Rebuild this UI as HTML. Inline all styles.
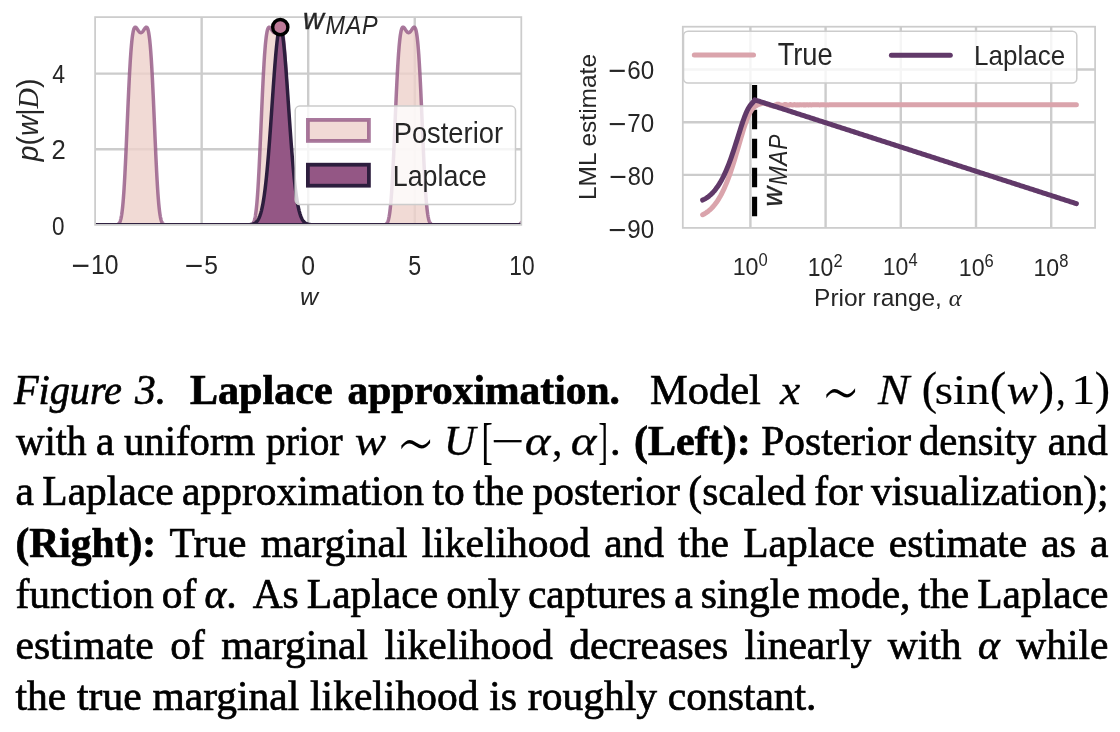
<!DOCTYPE html>
<html><head><meta charset="utf-8"><title>Figure 3. Laplace approximation</title>
<style>
html,body{margin:0;padding:0;background:#fff;}
body{width:1120px;height:732px;overflow:hidden;position:relative;}
svg{position:absolute;left:0;top:0;}
.sans{font-family:"Liberation Sans","DejaVu Sans",sans-serif;fill:#262626;}
.tick{font-size:24.5px;}
.leg{font-size:28.5px;}
#cap{position:absolute;left:0;top:0;width:1120px;height:732px;font-family:"Liberation Serif","DejaVu Serif",serif;font-size:41.5px;line-height:51.2px;color:#000;-webkit-text-stroke:0.7px #000;}
#cap .la{position:absolute;left:0;width:1120px;height:51.2px;white-space:nowrap;}
#cap .p{display:inline-block;white-space:pre;vertical-align:baseline;}
#cap .lj{position:absolute;left:15.5px;width:1093px;white-space:nowrap;text-align:justify;text-align-last:justify;word-spacing:-4px;}
#cap .lj.last{text-align-last:left;word-spacing:0.5px;}
</style></head><body>
<svg width="1120" height="340" viewBox="0 0 1120 340">
<defs><clipPath id="cl"><rect x="95.1" y="17.1" width="426.2" height="207.75"/></clipPath><clipPath id="cr"><rect x="682.8" y="26.7" width="412.3" height="201.2"/></clipPath></defs>
<!-- ===== LEFT PLOT ===== -->
<g fill="none" stroke="#cccccc" stroke-width="2.4">
<path d="M201.65,17.1V224.85M308.2,17.1V224.85M414.75,17.1V224.85M95.1,149.25H521.3M95.1,73.65H521.3"/>
</g>
<g clip-path="url(#cl)"><path d="M95.10,224.85 L95.10,224.85 95.37,224.85 95.63,224.85 95.90,224.85 96.17,224.85 96.43,224.85 96.70,224.85 96.96,224.85 97.23,224.85 97.50,224.85 97.76,224.85 98.03,224.85 98.30,224.85 98.56,224.85 98.83,224.85 99.10,224.85 99.36,224.85 99.63,224.85 99.89,224.85 100.16,224.85 100.43,224.85 100.69,224.85 100.96,224.85 101.23,224.85 101.49,224.85 101.76,224.85 102.03,224.85 102.29,224.85 102.56,224.85 102.82,224.85 103.09,224.85 103.36,224.85 103.62,224.85 103.89,224.85 104.16,224.85 104.42,224.85 104.69,224.85 104.96,224.85 105.22,224.85 105.49,224.85 105.75,224.85 106.02,224.85 106.29,224.85 106.55,224.85 106.82,224.85 107.09,224.85 107.35,224.85 107.62,224.85 107.89,224.85 108.15,224.85 108.42,224.85 108.69,224.85 108.95,224.85 109.22,224.85 109.48,224.85 109.75,224.85 110.02,224.85 110.28,224.85 110.55,224.85 110.82,224.85 111.08,224.85 111.35,224.85 111.62,224.85 111.88,224.85 112.15,224.85 112.41,224.85 112.68,224.85 112.95,224.85 113.21,224.85 113.48,224.85 113.75,224.85 114.01,224.85 114.28,224.84 114.55,224.84 114.81,224.84 115.08,224.83 115.34,224.83 115.61,224.82 115.88,224.80 116.14,224.78 116.41,224.76 116.68,224.73 116.94,224.68 117.21,224.62 117.48,224.55 117.74,224.45 118.01,224.33 118.27,224.17 118.54,223.97 118.81,223.72 119.07,223.42 119.34,223.04 119.61,222.58 119.87,222.03 120.14,221.37 120.41,220.58 120.67,219.65 120.94,218.56 121.20,217.30 121.47,215.84 121.74,214.17 122.00,212.27 122.27,210.13 122.54,207.73 122.80,205.06 123.07,202.11 123.34,198.87 123.60,195.34 123.87,191.51 124.13,187.39 124.40,182.99 124.67,178.31 124.93,173.37 125.20,168.18 125.47,162.77 125.73,157.17 126.00,151.38 126.27,145.46 126.53,139.42 126.80,133.31 127.06,127.15 127.33,120.97 127.60,114.83 127.86,108.73 128.13,102.73 128.40,96.85 128.66,91.12 128.93,85.56 129.20,80.20 129.46,75.07 129.73,70.18 130.00,65.54 130.26,61.17 130.53,57.08 130.79,53.27 131.06,49.75 131.33,46.52 131.59,43.58 131.86,40.91 132.13,38.53 132.39,36.41 132.66,34.54 132.93,32.93 133.19,31.55 133.46,30.38 133.72,29.43 133.99,28.66 134.26,28.07 134.52,27.64 134.79,27.35 135.06,27.20 135.32,27.16 135.59,27.22 135.86,27.36 136.12,27.58 136.39,27.86 136.65,28.19 136.92,28.55 137.19,28.94 137.45,29.34 137.72,29.75 137.99,30.15 138.25,30.54 138.52,30.92 138.79,31.27 139.05,31.59 139.32,31.88 139.58,32.12 139.85,32.32 140.12,32.48 140.38,32.59 140.65,32.65 140.92,32.66 141.18,32.62 141.45,32.53 141.72,32.39 141.98,32.20 142.25,31.97 142.51,31.70 142.78,31.39 143.05,31.05 143.31,30.68 143.58,30.29 143.85,29.89 144.11,29.49 144.38,29.08 144.65,28.69 144.91,28.31 145.18,27.97 145.44,27.68 145.71,27.43 145.98,27.26 146.24,27.17 146.51,27.17 146.78,27.28 147.04,27.52 147.31,27.89 147.58,28.42 147.84,29.13 148.11,30.01 148.38,31.10 148.64,32.40 148.91,33.93 149.17,35.70 149.44,37.73 149.71,40.02 149.97,42.58 150.24,45.42 150.51,48.55 150.77,51.96 151.04,55.66 151.31,59.65 151.57,63.92 151.84,68.46 152.10,73.27 152.37,78.31 152.64,83.59 152.90,89.08 153.17,94.75 153.44,100.58 153.70,106.54 153.97,112.61 154.24,118.74 154.50,124.91 154.77,131.07 155.03,137.21 155.30,143.28 155.57,149.25 155.83,155.09 156.10,160.76 156.37,166.25 156.63,171.51 156.90,176.55 157.17,181.32 157.43,185.83 157.70,190.05 157.96,193.98 158.23,197.62 158.50,200.97 158.76,204.02 159.03,206.79 159.30,209.29 159.56,211.52 159.83,213.51 160.10,215.26 160.36,216.79 160.63,218.12 160.89,219.27 161.16,220.26 161.43,221.10 161.69,221.80 161.96,222.39 162.23,222.88 162.49,223.29 162.76,223.62 163.03,223.89 163.29,224.10 163.56,224.27 163.82,224.41 164.09,224.52 164.36,224.60 164.62,224.66 164.89,224.71 165.16,224.75 165.42,224.78 165.69,224.80 165.96,224.81 166.22,224.82 166.49,224.83 166.75,224.84 167.02,224.84 167.29,224.84 167.55,224.85 167.82,224.85 168.09,224.85 168.35,224.85 168.62,224.85 168.89,224.85 169.15,224.85 169.42,224.85 169.69,224.85 169.95,224.85 170.22,224.85 170.48,224.85 170.75,224.85 171.02,224.85 171.28,224.85 171.55,224.85 171.82,224.85 172.08,224.85 172.35,224.85 172.62,224.85 172.88,224.85 173.15,224.85 173.41,224.85 173.68,224.85 173.95,224.85 174.21,224.85 174.48,224.85 174.75,224.85 175.01,224.85 175.28,224.85 175.55,224.85 175.81,224.85 176.08,224.85 176.34,224.85 176.61,224.85 176.88,224.85 177.14,224.85 177.41,224.85 177.68,224.85 177.94,224.85 178.21,224.85 178.48,224.85 178.74,224.85 179.01,224.85 179.27,224.85 179.54,224.85 179.81,224.85 180.07,224.85 180.34,224.85 180.61,224.85 180.87,224.85 181.14,224.85 181.41,224.85 181.67,224.85 181.94,224.85 182.20,224.85 182.47,224.85 182.74,224.85 183.00,224.85 183.27,224.85 183.54,224.85 183.80,224.85 184.07,224.85 184.34,224.85 184.60,224.85 184.87,224.85 185.13,224.85 185.40,224.85 185.67,224.85 185.93,224.85 186.20,224.85 186.47,224.85 186.73,224.85 187.00,224.85 187.27,224.85 187.53,224.85 187.80,224.85 188.06,224.85 188.33,224.85 188.60,224.85 188.86,224.85 189.13,224.85 189.40,224.85 189.66,224.85 189.93,224.85 190.20,224.85 190.46,224.85 190.73,224.85 191.00,224.85 191.26,224.85 191.53,224.85 191.79,224.85 192.06,224.85 192.33,224.85 192.59,224.85 192.86,224.85 193.13,224.85 193.39,224.85 193.66,224.85 193.93,224.85 194.19,224.85 194.46,224.85 194.72,224.85 194.99,224.85 195.26,224.85 195.52,224.85 195.79,224.85 196.06,224.85 196.32,224.85 196.59,224.85 196.86,224.85 197.12,224.85 197.39,224.85 197.65,224.85 197.92,224.85 198.19,224.85 198.45,224.85 198.72,224.85 198.99,224.85 199.25,224.85 199.52,224.85 199.79,224.85 200.05,224.85 200.32,224.85 200.58,224.85 200.85,224.85 201.12,224.85 201.38,224.85 201.65,224.85 201.92,224.85 202.18,224.85 202.45,224.85 202.72,224.85 202.98,224.85 203.25,224.85 203.51,224.85 203.78,224.85 204.05,224.85 204.31,224.85 204.58,224.85 204.85,224.85 205.11,224.85 205.38,224.85 205.65,224.85 205.91,224.85 206.18,224.85 206.44,224.85 206.71,224.85 206.98,224.85 207.24,224.85 207.51,224.85 207.78,224.85 208.04,224.85 208.31,224.85 208.58,224.85 208.84,224.85 209.11,224.85 209.37,224.85 209.64,224.85 209.91,224.85 210.17,224.85 210.44,224.85 210.71,224.85 210.97,224.85 211.24,224.85 211.51,224.85 211.77,224.85 212.04,224.85 212.31,224.85 212.57,224.85 212.84,224.85 213.10,224.85 213.37,224.85 213.64,224.85 213.90,224.85 214.17,224.85 214.44,224.85 214.70,224.85 214.97,224.85 215.24,224.85 215.50,224.85 215.77,224.85 216.03,224.85 216.30,224.85 216.57,224.85 216.83,224.85 217.10,224.85 217.37,224.85 217.63,224.85 217.90,224.85 218.17,224.85 218.43,224.85 218.70,224.85 218.96,224.85 219.23,224.85 219.50,224.85 219.76,224.85 220.03,224.85 220.30,224.85 220.56,224.85 220.83,224.85 221.10,224.85 221.36,224.85 221.63,224.85 221.89,224.85 222.16,224.85 222.43,224.85 222.69,224.85 222.96,224.85 223.23,224.85 223.49,224.85 223.76,224.85 224.03,224.85 224.29,224.85 224.56,224.85 224.82,224.85 225.09,224.85 225.36,224.85 225.62,224.85 225.89,224.85 226.16,224.85 226.42,224.85 226.69,224.85 226.96,224.85 227.22,224.85 227.49,224.85 227.75,224.85 228.02,224.85 228.29,224.85 228.55,224.85 228.82,224.85 229.09,224.85 229.35,224.85 229.62,224.85 229.89,224.85 230.15,224.85 230.42,224.85 230.68,224.85 230.95,224.85 231.22,224.85 231.48,224.85 231.75,224.85 232.02,224.85 232.28,224.85 232.55,224.85 232.82,224.85 233.08,224.85 233.35,224.85 233.62,224.85 233.88,224.85 234.15,224.85 234.41,224.85 234.68,224.85 234.95,224.85 235.21,224.85 235.48,224.85 235.75,224.85 236.01,224.85 236.28,224.85 236.55,224.85 236.81,224.85 237.08,224.85 237.34,224.85 237.61,224.85 237.88,224.85 238.14,224.85 238.41,224.85 238.68,224.85 238.94,224.85 239.21,224.85 239.48,224.85 239.74,224.85 240.01,224.85 240.27,224.85 240.54,224.85 240.81,224.85 241.07,224.85 241.34,224.85 241.61,224.85 241.87,224.85 242.14,224.85 242.41,224.85 242.67,224.85 242.94,224.85 243.20,224.85 243.47,224.85 243.74,224.85 244.00,224.85 244.27,224.85 244.54,224.85 244.80,224.85 245.07,224.85 245.34,224.85 245.60,224.85 245.87,224.85 246.13,224.85 246.40,224.85 246.67,224.85 246.93,224.85 247.20,224.85 247.47,224.85 247.73,224.85 248.00,224.85 248.27,224.84 248.53,224.84 248.80,224.84 249.06,224.83 249.33,224.82 249.60,224.81 249.86,224.80 250.13,224.78 250.40,224.75 250.66,224.71 250.93,224.66 251.20,224.60 251.46,224.52 251.73,224.41 251.99,224.28 252.26,224.10 252.53,223.89 252.79,223.62 253.06,223.29 253.33,222.89 253.59,222.40 253.86,221.81 254.13,221.11 254.39,220.28 254.66,219.29 254.92,218.15 255.19,216.82 255.46,215.29 255.72,213.54 255.99,211.56 256.26,209.33 256.52,206.84 256.79,204.07 257.06,201.02 257.32,197.68 257.59,194.05 257.86,190.12 258.12,185.90 258.39,181.40 258.65,176.63 258.92,171.61 259.19,166.34 259.45,160.86 259.72,155.19 259.99,149.35 260.25,143.39 260.52,137.32 260.79,131.18 261.05,125.02 261.32,118.85 261.58,112.71 261.85,106.65 262.12,100.69 262.38,94.85 262.65,89.18 262.92,83.69 263.18,78.41 263.45,73.35 263.72,68.55 263.98,64.00 264.25,59.73 264.51,55.73 264.78,52.03 265.05,48.61 265.31,45.47 265.58,42.63 265.85,40.06 266.11,37.77 266.38,35.74 266.65,33.96 266.91,32.43 267.18,31.12 267.44,30.03 267.71,29.14 267.98,28.44 268.24,27.90 268.51,27.52 268.78,27.28 269.04,27.17 269.31,27.17 269.58,27.26 269.84,27.43 270.11,27.67 270.37,27.97 270.64,28.31 270.91,28.68 271.17,29.07 271.44,29.48 271.71,29.89 271.97,30.29 272.24,30.68 272.51,31.04 272.77,31.38 273.04,31.69 273.30,31.96 273.57,32.20 273.84,32.38 274.10,32.52 274.37,32.62 274.64,32.66 274.90,32.65 275.17,32.59 275.44,32.48 275.70,32.33 275.97,32.12 276.24,31.88 276.50,31.60 276.77,31.28 277.03,30.93 277.30,30.55 277.57,30.16 277.83,29.75 278.10,29.34 278.37,28.94 278.63,28.55 278.90,28.19 279.17,27.87 279.43,27.59 279.70,27.37 279.96,27.22 280.23,27.16 280.50,27.19 280.76,27.35 281.03,27.63 281.30,28.06 281.56,28.65 281.83,29.41 282.10,30.36 282.36,31.52 282.63,32.90 282.89,34.51 283.16,36.37 283.43,38.49 283.69,40.87 283.96,43.53 284.23,46.47 284.49,49.69 284.76,53.21 285.03,57.01 285.29,61.10 285.56,65.46 285.82,70.09 286.09,74.98 286.36,80.11 286.62,85.46 286.89,91.02 287.16,96.75 287.42,102.62 287.69,108.63 287.96,114.72 288.22,120.86 288.49,127.04 288.75,133.20 289.02,139.32 289.29,145.35 289.55,151.28 289.82,157.07 290.09,162.68 290.35,168.09 290.62,173.28 290.89,178.22 291.15,182.91 291.42,187.32 291.68,191.44 291.95,195.27 292.22,198.81 292.48,202.05 292.75,205.01 293.02,207.69 293.28,210.09 293.55,212.24 293.82,214.14 294.08,215.81 294.35,217.27 294.61,218.54 294.88,219.63 295.15,220.56 295.41,221.35 295.68,222.02 295.95,222.57 296.21,223.03 296.48,223.41 296.75,223.72 297.01,223.97 297.28,224.17 297.55,224.32 297.81,224.45 298.08,224.55 298.34,224.62 298.61,224.68 298.88,224.72 299.14,224.76 299.41,224.78 299.68,224.80 299.94,224.82 300.21,224.83 300.48,224.83 300.74,224.84 301.01,224.84 301.27,224.84 301.54,224.85 301.81,224.85 302.07,224.85 302.34,224.85 302.61,224.85 302.87,224.85 303.14,224.85 303.41,224.85 303.67,224.85 303.94,224.85 304.20,224.85 304.47,224.85 304.74,224.85 305.00,224.85 305.27,224.85 305.54,224.85 305.80,224.85 306.07,224.85 306.34,224.85 306.60,224.85 306.87,224.85 307.13,224.85 307.40,224.85 307.67,224.85 307.93,224.85 308.20,224.85 308.47,224.85 308.73,224.85 309.00,224.85 309.27,224.85 309.53,224.85 309.80,224.85 310.06,224.85 310.33,224.85 310.60,224.85 310.86,224.85 311.13,224.85 311.40,224.85 311.66,224.85 311.93,224.85 312.20,224.85 312.46,224.85 312.73,224.85 312.99,224.85 313.26,224.85 313.53,224.85 313.79,224.85 314.06,224.85 314.33,224.85 314.59,224.85 314.86,224.85 315.13,224.85 315.39,224.85 315.66,224.85 315.92,224.85 316.19,224.85 316.46,224.85 316.72,224.85 316.99,224.85 317.26,224.85 317.52,224.85 317.79,224.85 318.06,224.85 318.32,224.85 318.59,224.85 318.85,224.85 319.12,224.85 319.39,224.85 319.65,224.85 319.92,224.85 320.19,224.85 320.45,224.85 320.72,224.85 320.99,224.85 321.25,224.85 321.52,224.85 321.79,224.85 322.05,224.85 322.32,224.85 322.58,224.85 322.85,224.85 323.12,224.85 323.38,224.85 323.65,224.85 323.92,224.85 324.18,224.85 324.45,224.85 324.72,224.85 324.98,224.85 325.25,224.85 325.51,224.85 325.78,224.85 326.05,224.85 326.31,224.85 326.58,224.85 326.85,224.85 327.11,224.85 327.38,224.85 327.65,224.85 327.91,224.85 328.18,224.85 328.44,224.85 328.71,224.85 328.98,224.85 329.24,224.85 329.51,224.85 329.78,224.85 330.04,224.85 330.31,224.85 330.58,224.85 330.84,224.85 331.11,224.85 331.37,224.85 331.64,224.85 331.91,224.85 332.17,224.85 332.44,224.85 332.71,224.85 332.97,224.85 333.24,224.85 333.51,224.85 333.77,224.85 334.04,224.85 334.30,224.85 334.57,224.85 334.84,224.85 335.10,224.85 335.37,224.85 335.64,224.85 335.90,224.85 336.17,224.85 336.44,224.85 336.70,224.85 336.97,224.85 337.23,224.85 337.50,224.85 337.77,224.85 338.03,224.85 338.30,224.85 338.57,224.85 338.83,224.85 339.10,224.85 339.37,224.85 339.63,224.85 339.90,224.85 340.16,224.85 340.43,224.85 340.70,224.85 340.96,224.85 341.23,224.85 341.50,224.85 341.76,224.85 342.03,224.85 342.30,224.85 342.56,224.85 342.83,224.85 343.10,224.85 343.36,224.85 343.63,224.85 343.89,224.85 344.16,224.85 344.43,224.85 344.69,224.85 344.96,224.85 345.23,224.85 345.49,224.85 345.76,224.85 346.03,224.85 346.29,224.85 346.56,224.85 346.82,224.85 347.09,224.85 347.36,224.85 347.62,224.85 347.89,224.85 348.16,224.85 348.42,224.85 348.69,224.85 348.96,224.85 349.22,224.85 349.49,224.85 349.75,224.85 350.02,224.85 350.29,224.85 350.55,224.85 350.82,224.85 351.09,224.85 351.35,224.85 351.62,224.85 351.89,224.85 352.15,224.85 352.42,224.85 352.68,224.85 352.95,224.85 353.22,224.85 353.48,224.85 353.75,224.85 354.02,224.85 354.28,224.85 354.55,224.85 354.82,224.85 355.08,224.85 355.35,224.85 355.61,224.85 355.88,224.85 356.15,224.85 356.41,224.85 356.68,224.85 356.95,224.85 357.21,224.85 357.48,224.85 357.75,224.85 358.01,224.85 358.28,224.85 358.54,224.85 358.81,224.85 359.08,224.85 359.34,224.85 359.61,224.85 359.88,224.85 360.14,224.85 360.41,224.85 360.68,224.85 360.94,224.85 361.21,224.85 361.47,224.85 361.74,224.85 362.01,224.85 362.27,224.85 362.54,224.85 362.81,224.85 363.07,224.85 363.34,224.85 363.61,224.85 363.87,224.85 364.14,224.85 364.41,224.85 364.67,224.85 364.94,224.85 365.20,224.85 365.47,224.85 365.74,224.85 366.00,224.85 366.27,224.85 366.54,224.85 366.80,224.85 367.07,224.85 367.34,224.85 367.60,224.85 367.87,224.85 368.13,224.85 368.40,224.85 368.67,224.85 368.93,224.85 369.20,224.85 369.47,224.85 369.73,224.85 370.00,224.85 370.27,224.85 370.53,224.85 370.80,224.85 371.06,224.85 371.33,224.85 371.60,224.85 371.86,224.85 372.13,224.85 372.40,224.85 372.66,224.85 372.93,224.85 373.20,224.85 373.46,224.85 373.73,224.85 373.99,224.85 374.26,224.85 374.53,224.85 374.79,224.85 375.06,224.85 375.33,224.85 375.59,224.85 375.86,224.85 376.13,224.85 376.39,224.85 376.66,224.85 376.92,224.85 377.19,224.85 377.46,224.85 377.72,224.85 377.99,224.85 378.26,224.85 378.52,224.85 378.79,224.85 379.06,224.85 379.32,224.85 379.59,224.85 379.85,224.85 380.12,224.85 380.39,224.85 380.65,224.85 380.92,224.85 381.19,224.85 381.45,224.85 381.72,224.85 381.99,224.85 382.25,224.84 382.52,224.84 382.78,224.83 383.05,224.83 383.32,224.82 383.58,224.81 383.85,224.79 384.12,224.77 384.38,224.74 384.65,224.70 384.92,224.64 385.18,224.57 385.45,224.48 385.72,224.37 385.98,224.22 386.25,224.04 386.51,223.80 386.78,223.52 387.05,223.16 387.31,222.73 387.58,222.21 387.85,221.58 388.11,220.84 388.38,219.95 388.65,218.92 388.91,217.71 389.18,216.31 389.44,214.71 389.71,212.89 389.98,210.82 390.24,208.50 390.51,205.92 390.78,203.05 391.04,199.90 391.31,196.46 391.58,192.73 391.84,188.70 392.11,184.38 392.37,179.79 392.64,174.93 392.91,169.81 393.17,164.47 393.44,158.92 393.71,153.19 393.97,147.31 394.24,141.30 394.51,135.21 394.77,129.06 395.04,122.88 395.30,116.72 395.57,110.61 395.84,104.58 396.10,98.66 396.37,92.87 396.64,87.26 396.90,81.84 397.17,76.63 397.44,71.66 397.70,66.95 397.97,62.49 398.23,58.32 398.50,54.42 398.77,50.81 399.03,47.49 399.30,44.46 399.57,41.71 399.83,39.24 400.10,37.04 400.37,35.09 400.63,33.40 400.90,31.95 401.16,30.72 401.43,29.70 401.70,28.88 401.96,28.23 402.23,27.75 402.50,27.43 402.76,27.23 403.03,27.16 403.30,27.19 403.56,27.31 403.83,27.51 404.09,27.77 404.36,28.08 404.63,28.43 404.89,28.81 405.16,29.21 405.43,29.62 405.69,30.03 405.96,30.42 406.23,30.80 406.49,31.16 406.76,31.49 407.03,31.79 407.29,32.05 407.56,32.27 407.82,32.44 408.09,32.56 408.36,32.64 408.62,32.66 408.89,32.63 409.16,32.56 409.42,32.43 409.69,32.26 409.96,32.04 410.22,31.79 410.49,31.49 410.75,31.16 411.02,30.80 411.29,30.42 411.55,30.02 411.82,29.61 412.09,29.21 412.35,28.81 412.62,28.43 412.89,28.07 413.15,27.76 413.42,27.50 413.68,27.31 413.95,27.19 414.22,27.16 414.48,27.23 414.75,27.43 415.02,27.76 415.28,28.24 415.55,28.89 415.82,29.72 416.08,30.74 416.35,31.97 416.61,33.43 416.88,35.13 417.15,37.07 417.41,39.28 417.68,41.76 417.95,44.51 418.21,47.55 418.48,50.87 418.75,54.49 419.01,58.39 419.28,62.57 419.54,67.03 419.81,71.75 420.08,76.72 420.34,81.93 420.61,87.36 420.88,92.97 421.14,98.76 421.41,104.68 421.68,110.72 421.94,116.83 422.21,122.99 422.47,129.17 422.74,135.32 423.01,141.41 423.27,147.41 423.54,153.30 423.81,159.02 424.07,164.57 424.34,169.91 424.61,175.01 424.87,179.87 425.14,184.46 425.40,188.77 425.67,192.80 425.94,196.53 426.20,199.96 426.47,203.11 426.74,205.97 427.00,208.55 427.27,210.86 427.54,212.92 427.80,214.74 428.07,216.34 428.34,217.73 428.60,218.94 428.87,219.97 429.13,220.85 429.40,221.60 429.67,222.22 429.93,222.74 430.20,223.17 430.47,223.52 430.73,223.81 431.00,224.04 431.27,224.22 431.53,224.37 431.80,224.49 432.06,224.57 432.33,224.64 432.60,224.70 432.86,224.74 433.13,224.77 433.40,224.79 433.66,224.81 433.93,224.82 434.20,224.83 434.46,224.83 434.73,224.84 434.99,224.84 435.26,224.85 435.53,224.85 435.79,224.85 436.06,224.85 436.33,224.85 436.59,224.85 436.86,224.85 437.13,224.85 437.39,224.85 437.66,224.85 437.92,224.85 438.19,224.85 438.46,224.85 438.72,224.85 438.99,224.85 439.26,224.85 439.52,224.85 439.79,224.85 440.06,224.85 440.32,224.85 440.59,224.85 440.85,224.85 441.12,224.85 441.39,224.85 441.65,224.85 441.92,224.85 442.19,224.85 442.45,224.85 442.72,224.85 442.99,224.85 443.25,224.85 443.52,224.85 443.78,224.85 444.05,224.85 444.32,224.85 444.58,224.85 444.85,224.85 445.12,224.85 445.38,224.85 445.65,224.85 445.92,224.85 446.18,224.85 446.45,224.85 446.71,224.85 446.98,224.85 447.25,224.85 447.51,224.85 447.78,224.85 448.05,224.85 448.31,224.85 448.58,224.85 448.85,224.85 449.11,224.85 449.38,224.85 449.65,224.85 449.91,224.85 450.18,224.85 450.44,224.85 450.71,224.85 450.98,224.85 451.24,224.85 451.51,224.85 451.78,224.85 452.04,224.85 452.31,224.85 452.58,224.85 452.84,224.85 453.11,224.85 453.37,224.85 453.64,224.85 453.91,224.85 454.17,224.85 454.44,224.85 454.71,224.85 454.97,224.85 455.24,224.85 455.51,224.85 455.77,224.85 456.04,224.85 456.30,224.85 456.57,224.85 456.84,224.85 457.10,224.85 457.37,224.85 457.64,224.85 457.90,224.85 458.17,224.85 458.44,224.85 458.70,224.85 458.97,224.85 459.23,224.85 459.50,224.85 459.77,224.85 460.03,224.85 460.30,224.85 460.57,224.85 460.83,224.85 461.10,224.85 461.37,224.85 461.63,224.85 461.90,224.85 462.16,224.85 462.43,224.85 462.70,224.85 462.96,224.85 463.23,224.85 463.50,224.85 463.76,224.85 464.03,224.85 464.30,224.85 464.56,224.85 464.83,224.85 465.09,224.85 465.36,224.85 465.63,224.85 465.89,224.85 466.16,224.85 466.43,224.85 466.69,224.85 466.96,224.85 467.23,224.85 467.49,224.85 467.76,224.85 468.02,224.85 468.29,224.85 468.56,224.85 468.82,224.85 469.09,224.85 469.36,224.85 469.62,224.85 469.89,224.85 470.16,224.85 470.42,224.85 470.69,224.85 470.96,224.85 471.22,224.85 471.49,224.85 471.75,224.85 472.02,224.85 472.29,224.85 472.55,224.85 472.82,224.85 473.09,224.85 473.35,224.85 473.62,224.85 473.89,224.85 474.15,224.85 474.42,224.85 474.68,224.85 474.95,224.85 475.22,224.85 475.48,224.85 475.75,224.85 476.02,224.85 476.28,224.85 476.55,224.85 476.82,224.85 477.08,224.85 477.35,224.85 477.61,224.85 477.88,224.85 478.15,224.85 478.41,224.85 478.68,224.85 478.95,224.85 479.21,224.85 479.48,224.85 479.75,224.85 480.01,224.85 480.28,224.85 480.54,224.85 480.81,224.85 481.08,224.85 481.34,224.85 481.61,224.85 481.88,224.85 482.14,224.85 482.41,224.85 482.68,224.85 482.94,224.85 483.21,224.85 483.47,224.85 483.74,224.85 484.01,224.85 484.27,224.85 484.54,224.85 484.81,224.85 485.07,224.85 485.34,224.85 485.61,224.85 485.87,224.85 486.14,224.85 486.40,224.85 486.67,224.85 486.94,224.85 487.20,224.85 487.47,224.85 487.74,224.85 488.00,224.85 488.27,224.85 488.54,224.85 488.80,224.85 489.07,224.85 489.33,224.85 489.60,224.85 489.87,224.85 490.13,224.85 490.40,224.85 490.67,224.85 490.93,224.85 491.20,224.85 491.47,224.85 491.73,224.85 492.00,224.85 492.27,224.85 492.53,224.85 492.80,224.85 493.06,224.85 493.33,224.85 493.60,224.85 493.86,224.85 494.13,224.85 494.40,224.85 494.66,224.85 494.93,224.85 495.20,224.85 495.46,224.85 495.73,224.85 495.99,224.85 496.26,224.85 496.53,224.85 496.79,224.85 497.06,224.85 497.33,224.85 497.59,224.85 497.86,224.85 498.13,224.85 498.39,224.85 498.66,224.85 498.92,224.85 499.19,224.85 499.46,224.85 499.72,224.85 499.99,224.85 500.26,224.85 500.52,224.85 500.79,224.85 501.06,224.85 501.32,224.85 501.59,224.85 501.85,224.85 502.12,224.85 502.39,224.85 502.65,224.85 502.92,224.85 503.19,224.85 503.45,224.85 503.72,224.85 503.99,224.85 504.25,224.85 504.52,224.85 504.78,224.85 505.05,224.85 505.32,224.85 505.58,224.85 505.85,224.85 506.12,224.85 506.38,224.85 506.65,224.85 506.92,224.85 507.18,224.85 507.45,224.85 507.71,224.85 507.98,224.85 508.25,224.85 508.51,224.85 508.78,224.85 509.05,224.85 509.31,224.85 509.58,224.85 509.85,224.85 510.11,224.85 510.38,224.85 510.64,224.85 510.91,224.85 511.18,224.85 511.44,224.85 511.71,224.85 511.98,224.85 512.24,224.85 512.51,224.85 512.78,224.85 513.04,224.85 513.31,224.85 513.58,224.85 513.84,224.85 514.11,224.85 514.37,224.85 514.64,224.85 514.91,224.85 515.17,224.85 515.44,224.85 515.71,224.85 515.97,224.84 516.24,224.84 516.51,224.84 516.77,224.83 517.04,224.83 517.30,224.82 517.57,224.80 517.84,224.78 518.10,224.76 518.37,224.72 518.64,224.68 518.90,224.62 519.17,224.54 519.44,224.45 519.70,224.32 519.97,224.16 520.23,223.96 520.50,223.71 520.77,223.40 521.03,223.02 521.30,222.56 L521.30,224.85 Z" fill="#edd1cb" fill-opacity="0.8" stroke="#945785" stroke-opacity="0.8" stroke-width="3.5" stroke-linejoin="round"/>
<path d="M95.10,224.85 L95.10,224.85 95.37,224.85 95.63,224.85 95.90,224.85 96.17,224.85 96.43,224.85 96.70,224.85 96.96,224.85 97.23,224.85 97.50,224.85 97.76,224.85 98.03,224.85 98.30,224.85 98.56,224.85 98.83,224.85 99.10,224.85 99.36,224.85 99.63,224.85 99.89,224.85 100.16,224.85 100.43,224.85 100.69,224.85 100.96,224.85 101.23,224.85 101.49,224.85 101.76,224.85 102.03,224.85 102.29,224.85 102.56,224.85 102.82,224.85 103.09,224.85 103.36,224.85 103.62,224.85 103.89,224.85 104.16,224.85 104.42,224.85 104.69,224.85 104.96,224.85 105.22,224.85 105.49,224.85 105.75,224.85 106.02,224.85 106.29,224.85 106.55,224.85 106.82,224.85 107.09,224.85 107.35,224.85 107.62,224.85 107.89,224.85 108.15,224.85 108.42,224.85 108.69,224.85 108.95,224.85 109.22,224.85 109.48,224.85 109.75,224.85 110.02,224.85 110.28,224.85 110.55,224.85 110.82,224.85 111.08,224.85 111.35,224.85 111.62,224.85 111.88,224.85 112.15,224.85 112.41,224.85 112.68,224.85 112.95,224.85 113.21,224.85 113.48,224.85 113.75,224.85 114.01,224.85 114.28,224.85 114.55,224.85 114.81,224.85 115.08,224.85 115.34,224.85 115.61,224.85 115.88,224.85 116.14,224.85 116.41,224.85 116.68,224.85 116.94,224.85 117.21,224.85 117.48,224.85 117.74,224.85 118.01,224.85 118.27,224.85 118.54,224.85 118.81,224.85 119.07,224.85 119.34,224.85 119.61,224.85 119.87,224.85 120.14,224.85 120.41,224.85 120.67,224.85 120.94,224.85 121.20,224.85 121.47,224.85 121.74,224.85 122.00,224.85 122.27,224.85 122.54,224.85 122.80,224.85 123.07,224.85 123.34,224.85 123.60,224.85 123.87,224.85 124.13,224.85 124.40,224.85 124.67,224.85 124.93,224.85 125.20,224.85 125.47,224.85 125.73,224.85 126.00,224.85 126.27,224.85 126.53,224.85 126.80,224.85 127.06,224.85 127.33,224.85 127.60,224.85 127.86,224.85 128.13,224.85 128.40,224.85 128.66,224.85 128.93,224.85 129.20,224.85 129.46,224.85 129.73,224.85 130.00,224.85 130.26,224.85 130.53,224.85 130.79,224.85 131.06,224.85 131.33,224.85 131.59,224.85 131.86,224.85 132.13,224.85 132.39,224.85 132.66,224.85 132.93,224.85 133.19,224.85 133.46,224.85 133.72,224.85 133.99,224.85 134.26,224.85 134.52,224.85 134.79,224.85 135.06,224.85 135.32,224.85 135.59,224.85 135.86,224.85 136.12,224.85 136.39,224.85 136.65,224.85 136.92,224.85 137.19,224.85 137.45,224.85 137.72,224.85 137.99,224.85 138.25,224.85 138.52,224.85 138.79,224.85 139.05,224.85 139.32,224.85 139.58,224.85 139.85,224.85 140.12,224.85 140.38,224.85 140.65,224.85 140.92,224.85 141.18,224.85 141.45,224.85 141.72,224.85 141.98,224.85 142.25,224.85 142.51,224.85 142.78,224.85 143.05,224.85 143.31,224.85 143.58,224.85 143.85,224.85 144.11,224.85 144.38,224.85 144.65,224.85 144.91,224.85 145.18,224.85 145.44,224.85 145.71,224.85 145.98,224.85 146.24,224.85 146.51,224.85 146.78,224.85 147.04,224.85 147.31,224.85 147.58,224.85 147.84,224.85 148.11,224.85 148.38,224.85 148.64,224.85 148.91,224.85 149.17,224.85 149.44,224.85 149.71,224.85 149.97,224.85 150.24,224.85 150.51,224.85 150.77,224.85 151.04,224.85 151.31,224.85 151.57,224.85 151.84,224.85 152.10,224.85 152.37,224.85 152.64,224.85 152.90,224.85 153.17,224.85 153.44,224.85 153.70,224.85 153.97,224.85 154.24,224.85 154.50,224.85 154.77,224.85 155.03,224.85 155.30,224.85 155.57,224.85 155.83,224.85 156.10,224.85 156.37,224.85 156.63,224.85 156.90,224.85 157.17,224.85 157.43,224.85 157.70,224.85 157.96,224.85 158.23,224.85 158.50,224.85 158.76,224.85 159.03,224.85 159.30,224.85 159.56,224.85 159.83,224.85 160.10,224.85 160.36,224.85 160.63,224.85 160.89,224.85 161.16,224.85 161.43,224.85 161.69,224.85 161.96,224.85 162.23,224.85 162.49,224.85 162.76,224.85 163.03,224.85 163.29,224.85 163.56,224.85 163.82,224.85 164.09,224.85 164.36,224.85 164.62,224.85 164.89,224.85 165.16,224.85 165.42,224.85 165.69,224.85 165.96,224.85 166.22,224.85 166.49,224.85 166.75,224.85 167.02,224.85 167.29,224.85 167.55,224.85 167.82,224.85 168.09,224.85 168.35,224.85 168.62,224.85 168.89,224.85 169.15,224.85 169.42,224.85 169.69,224.85 169.95,224.85 170.22,224.85 170.48,224.85 170.75,224.85 171.02,224.85 171.28,224.85 171.55,224.85 171.82,224.85 172.08,224.85 172.35,224.85 172.62,224.85 172.88,224.85 173.15,224.85 173.41,224.85 173.68,224.85 173.95,224.85 174.21,224.85 174.48,224.85 174.75,224.85 175.01,224.85 175.28,224.85 175.55,224.85 175.81,224.85 176.08,224.85 176.34,224.85 176.61,224.85 176.88,224.85 177.14,224.85 177.41,224.85 177.68,224.85 177.94,224.85 178.21,224.85 178.48,224.85 178.74,224.85 179.01,224.85 179.27,224.85 179.54,224.85 179.81,224.85 180.07,224.85 180.34,224.85 180.61,224.85 180.87,224.85 181.14,224.85 181.41,224.85 181.67,224.85 181.94,224.85 182.20,224.85 182.47,224.85 182.74,224.85 183.00,224.85 183.27,224.85 183.54,224.85 183.80,224.85 184.07,224.85 184.34,224.85 184.60,224.85 184.87,224.85 185.13,224.85 185.40,224.85 185.67,224.85 185.93,224.85 186.20,224.85 186.47,224.85 186.73,224.85 187.00,224.85 187.27,224.85 187.53,224.85 187.80,224.85 188.06,224.85 188.33,224.85 188.60,224.85 188.86,224.85 189.13,224.85 189.40,224.85 189.66,224.85 189.93,224.85 190.20,224.85 190.46,224.85 190.73,224.85 191.00,224.85 191.26,224.85 191.53,224.85 191.79,224.85 192.06,224.85 192.33,224.85 192.59,224.85 192.86,224.85 193.13,224.85 193.39,224.85 193.66,224.85 193.93,224.85 194.19,224.85 194.46,224.85 194.72,224.85 194.99,224.85 195.26,224.85 195.52,224.85 195.79,224.85 196.06,224.85 196.32,224.85 196.59,224.85 196.86,224.85 197.12,224.85 197.39,224.85 197.65,224.85 197.92,224.85 198.19,224.85 198.45,224.85 198.72,224.85 198.99,224.85 199.25,224.85 199.52,224.85 199.79,224.85 200.05,224.85 200.32,224.85 200.58,224.85 200.85,224.85 201.12,224.85 201.38,224.85 201.65,224.85 201.92,224.85 202.18,224.85 202.45,224.85 202.72,224.85 202.98,224.85 203.25,224.85 203.51,224.85 203.78,224.85 204.05,224.85 204.31,224.85 204.58,224.85 204.85,224.85 205.11,224.85 205.38,224.85 205.65,224.85 205.91,224.85 206.18,224.85 206.44,224.85 206.71,224.85 206.98,224.85 207.24,224.85 207.51,224.85 207.78,224.85 208.04,224.85 208.31,224.85 208.58,224.85 208.84,224.85 209.11,224.85 209.37,224.85 209.64,224.85 209.91,224.85 210.17,224.85 210.44,224.85 210.71,224.85 210.97,224.85 211.24,224.85 211.51,224.85 211.77,224.85 212.04,224.85 212.31,224.85 212.57,224.85 212.84,224.85 213.10,224.85 213.37,224.85 213.64,224.85 213.90,224.85 214.17,224.85 214.44,224.85 214.70,224.85 214.97,224.85 215.24,224.85 215.50,224.85 215.77,224.85 216.03,224.85 216.30,224.85 216.57,224.85 216.83,224.85 217.10,224.85 217.37,224.85 217.63,224.85 217.90,224.85 218.17,224.85 218.43,224.85 218.70,224.85 218.96,224.85 219.23,224.85 219.50,224.85 219.76,224.85 220.03,224.85 220.30,224.85 220.56,224.85 220.83,224.85 221.10,224.85 221.36,224.85 221.63,224.85 221.89,224.85 222.16,224.85 222.43,224.85 222.69,224.85 222.96,224.85 223.23,224.85 223.49,224.85 223.76,224.85 224.03,224.85 224.29,224.85 224.56,224.85 224.82,224.85 225.09,224.85 225.36,224.85 225.62,224.85 225.89,224.85 226.16,224.85 226.42,224.85 226.69,224.85 226.96,224.85 227.22,224.85 227.49,224.85 227.75,224.85 228.02,224.85 228.29,224.85 228.55,224.85 228.82,224.85 229.09,224.85 229.35,224.85 229.62,224.85 229.89,224.85 230.15,224.85 230.42,224.85 230.68,224.85 230.95,224.85 231.22,224.85 231.48,224.85 231.75,224.85 232.02,224.85 232.28,224.85 232.55,224.85 232.82,224.85 233.08,224.85 233.35,224.85 233.62,224.85 233.88,224.85 234.15,224.85 234.41,224.85 234.68,224.85 234.95,224.85 235.21,224.85 235.48,224.85 235.75,224.85 236.01,224.85 236.28,224.85 236.55,224.85 236.81,224.85 237.08,224.85 237.34,224.85 237.61,224.85 237.88,224.85 238.14,224.85 238.41,224.85 238.68,224.85 238.94,224.85 239.21,224.85 239.48,224.85 239.74,224.85 240.01,224.85 240.27,224.85 240.54,224.85 240.81,224.85 241.07,224.85 241.34,224.85 241.61,224.85 241.87,224.85 242.14,224.85 242.41,224.85 242.67,224.84 242.94,224.84 243.20,224.84 243.47,224.84 243.74,224.84 244.00,224.84 244.27,224.84 244.54,224.83 244.80,224.83 245.07,224.83 245.34,224.83 245.60,224.82 245.87,224.82 246.13,224.82 246.40,224.81 246.67,224.80 246.93,224.80 247.20,224.79 247.47,224.78 247.73,224.77 248.00,224.76 248.27,224.75 248.53,224.74 248.80,224.72 249.06,224.71 249.33,224.69 249.60,224.67 249.86,224.64 250.13,224.62 250.40,224.59 250.66,224.56 250.93,224.52 251.20,224.48 251.46,224.43 251.73,224.38 251.99,224.33 252.26,224.27 252.53,224.20 252.79,224.12 253.06,224.04 253.33,223.95 253.59,223.85 253.86,223.74 254.13,223.62 254.39,223.48 254.66,223.33 254.92,223.17 255.19,223.00 255.46,222.81 255.72,222.60 255.99,222.37 256.26,222.12 256.52,221.85 256.79,221.55 257.06,221.24 257.32,220.89 257.59,220.52 257.86,220.11 258.12,219.68 258.39,219.20 258.65,218.70 258.92,218.15 259.19,217.56 259.45,216.93 259.72,216.26 259.99,215.54 260.25,214.76 260.52,213.94 260.79,213.06 261.05,212.12 261.32,211.12 261.58,210.06 261.85,208.93 262.12,207.74 262.38,206.47 262.65,205.14 262.92,203.72 263.18,202.23 263.45,200.67 263.72,199.01 263.98,197.28 264.25,195.46 264.51,193.55 264.78,191.56 265.05,189.47 265.31,187.30 265.58,185.03 265.85,182.67 266.11,180.21 266.38,177.67 266.65,175.03 266.91,172.30 267.18,169.47 267.44,166.56 267.71,163.56 267.98,160.47 268.24,157.30 268.51,154.04 268.78,150.71 269.04,147.30 269.31,143.82 269.58,140.27 269.84,136.67 270.11,133.00 270.37,129.28 270.64,125.52 270.91,121.72 271.17,117.88 271.44,114.02 271.71,110.14 271.97,106.25 272.24,102.36 272.51,98.47 272.77,94.60 273.04,90.75 273.30,86.93 273.57,83.15 273.84,79.42 274.10,75.75 274.37,72.15 274.64,68.63 274.90,65.20 275.17,61.86 275.44,58.62 275.70,55.50 275.97,52.51 276.24,49.64 276.50,46.92 276.77,44.34 277.03,41.92 277.30,39.67 277.57,37.58 277.83,35.67 278.10,33.93 278.37,32.39 278.63,31.04 278.90,29.89 279.17,28.93 279.43,28.18 279.70,27.63 279.96,27.29 280.23,27.16 280.50,27.23 280.76,27.52 281.03,28.01 281.30,28.71 281.56,29.61 281.83,30.71 282.10,32.00 282.36,33.50 282.63,35.18 282.89,37.04 283.16,39.08 283.43,41.29 283.69,43.67 283.96,46.20 284.23,48.89 284.49,51.71 284.76,54.67 285.03,57.76 285.29,60.96 285.56,64.28 285.82,67.69 286.09,71.19 286.36,74.77 286.62,78.42 286.89,82.13 287.16,85.90 287.42,89.70 287.69,93.55 287.96,97.41 288.22,101.30 288.49,105.19 288.75,109.08 289.02,112.96 289.29,116.83 289.55,120.67 289.82,124.49 290.09,128.26 290.35,131.99 290.62,135.67 290.89,139.30 291.15,142.86 291.42,146.36 291.68,149.79 291.95,153.14 292.22,156.42 292.48,159.61 292.75,162.72 293.02,165.75 293.28,168.69 293.55,171.53 293.82,174.29 294.08,176.96 294.35,179.53 294.61,182.01 294.88,184.39 295.15,186.69 295.41,188.89 295.68,191.00 295.95,193.02 296.21,194.95 296.48,196.79 296.75,198.55 297.01,200.22 297.28,201.81 297.55,203.33 297.81,204.76 298.08,206.12 298.34,207.40 298.61,208.61 298.88,209.76 299.14,210.84 299.41,211.85 299.68,212.81 299.94,213.70 300.21,214.54 300.48,215.33 300.74,216.07 301.01,216.76 301.27,217.40 301.54,218.00 301.81,218.55 302.07,219.07 302.34,219.55 302.61,220.00 302.87,220.41 303.14,220.79 303.41,221.14 303.67,221.47 303.94,221.77 304.20,222.05 304.47,222.30 304.74,222.54 305.00,222.75 305.27,222.95 305.54,223.13 305.80,223.29 306.07,223.44 306.34,223.58 306.60,223.71 306.87,223.82 307.13,223.92 307.40,224.02 307.67,224.10 307.93,224.18 308.20,224.25 308.47,224.31 308.73,224.37 309.00,224.42 309.27,224.47 309.53,224.51 309.80,224.55 310.06,224.58 310.33,224.61 310.60,224.64 310.86,224.66 311.13,224.68 311.40,224.70 311.66,224.72 311.93,224.73 312.20,224.75 312.46,224.76 312.73,224.77 312.99,224.78 313.26,224.79 313.53,224.80 313.79,224.80 314.06,224.81 314.33,224.81 314.59,224.82 314.86,224.82 315.13,224.83 315.39,224.83 315.66,224.83 315.92,224.83 316.19,224.84 316.46,224.84 316.72,224.84 316.99,224.84 317.26,224.84 317.52,224.84 317.79,224.84 318.06,224.85 318.32,224.85 318.59,224.85 318.85,224.85 319.12,224.85 319.39,224.85 319.65,224.85 319.92,224.85 320.19,224.85 320.45,224.85 320.72,224.85 320.99,224.85 321.25,224.85 321.52,224.85 321.79,224.85 322.05,224.85 322.32,224.85 322.58,224.85 322.85,224.85 323.12,224.85 323.38,224.85 323.65,224.85 323.92,224.85 324.18,224.85 324.45,224.85 324.72,224.85 324.98,224.85 325.25,224.85 325.51,224.85 325.78,224.85 326.05,224.85 326.31,224.85 326.58,224.85 326.85,224.85 327.11,224.85 327.38,224.85 327.65,224.85 327.91,224.85 328.18,224.85 328.44,224.85 328.71,224.85 328.98,224.85 329.24,224.85 329.51,224.85 329.78,224.85 330.04,224.85 330.31,224.85 330.58,224.85 330.84,224.85 331.11,224.85 331.37,224.85 331.64,224.85 331.91,224.85 332.17,224.85 332.44,224.85 332.71,224.85 332.97,224.85 333.24,224.85 333.51,224.85 333.77,224.85 334.04,224.85 334.30,224.85 334.57,224.85 334.84,224.85 335.10,224.85 335.37,224.85 335.64,224.85 335.90,224.85 336.17,224.85 336.44,224.85 336.70,224.85 336.97,224.85 337.23,224.85 337.50,224.85 337.77,224.85 338.03,224.85 338.30,224.85 338.57,224.85 338.83,224.85 339.10,224.85 339.37,224.85 339.63,224.85 339.90,224.85 340.16,224.85 340.43,224.85 340.70,224.85 340.96,224.85 341.23,224.85 341.50,224.85 341.76,224.85 342.03,224.85 342.30,224.85 342.56,224.85 342.83,224.85 343.10,224.85 343.36,224.85 343.63,224.85 343.89,224.85 344.16,224.85 344.43,224.85 344.69,224.85 344.96,224.85 345.23,224.85 345.49,224.85 345.76,224.85 346.03,224.85 346.29,224.85 346.56,224.85 346.82,224.85 347.09,224.85 347.36,224.85 347.62,224.85 347.89,224.85 348.16,224.85 348.42,224.85 348.69,224.85 348.96,224.85 349.22,224.85 349.49,224.85 349.75,224.85 350.02,224.85 350.29,224.85 350.55,224.85 350.82,224.85 351.09,224.85 351.35,224.85 351.62,224.85 351.89,224.85 352.15,224.85 352.42,224.85 352.68,224.85 352.95,224.85 353.22,224.85 353.48,224.85 353.75,224.85 354.02,224.85 354.28,224.85 354.55,224.85 354.82,224.85 355.08,224.85 355.35,224.85 355.61,224.85 355.88,224.85 356.15,224.85 356.41,224.85 356.68,224.85 356.95,224.85 357.21,224.85 357.48,224.85 357.75,224.85 358.01,224.85 358.28,224.85 358.54,224.85 358.81,224.85 359.08,224.85 359.34,224.85 359.61,224.85 359.88,224.85 360.14,224.85 360.41,224.85 360.68,224.85 360.94,224.85 361.21,224.85 361.47,224.85 361.74,224.85 362.01,224.85 362.27,224.85 362.54,224.85 362.81,224.85 363.07,224.85 363.34,224.85 363.61,224.85 363.87,224.85 364.14,224.85 364.41,224.85 364.67,224.85 364.94,224.85 365.20,224.85 365.47,224.85 365.74,224.85 366.00,224.85 366.27,224.85 366.54,224.85 366.80,224.85 367.07,224.85 367.34,224.85 367.60,224.85 367.87,224.85 368.13,224.85 368.40,224.85 368.67,224.85 368.93,224.85 369.20,224.85 369.47,224.85 369.73,224.85 370.00,224.85 370.27,224.85 370.53,224.85 370.80,224.85 371.06,224.85 371.33,224.85 371.60,224.85 371.86,224.85 372.13,224.85 372.40,224.85 372.66,224.85 372.93,224.85 373.20,224.85 373.46,224.85 373.73,224.85 373.99,224.85 374.26,224.85 374.53,224.85 374.79,224.85 375.06,224.85 375.33,224.85 375.59,224.85 375.86,224.85 376.13,224.85 376.39,224.85 376.66,224.85 376.92,224.85 377.19,224.85 377.46,224.85 377.72,224.85 377.99,224.85 378.26,224.85 378.52,224.85 378.79,224.85 379.06,224.85 379.32,224.85 379.59,224.85 379.85,224.85 380.12,224.85 380.39,224.85 380.65,224.85 380.92,224.85 381.19,224.85 381.45,224.85 381.72,224.85 381.99,224.85 382.25,224.85 382.52,224.85 382.78,224.85 383.05,224.85 383.32,224.85 383.58,224.85 383.85,224.85 384.12,224.85 384.38,224.85 384.65,224.85 384.92,224.85 385.18,224.85 385.45,224.85 385.72,224.85 385.98,224.85 386.25,224.85 386.51,224.85 386.78,224.85 387.05,224.85 387.31,224.85 387.58,224.85 387.85,224.85 388.11,224.85 388.38,224.85 388.65,224.85 388.91,224.85 389.18,224.85 389.44,224.85 389.71,224.85 389.98,224.85 390.24,224.85 390.51,224.85 390.78,224.85 391.04,224.85 391.31,224.85 391.58,224.85 391.84,224.85 392.11,224.85 392.37,224.85 392.64,224.85 392.91,224.85 393.17,224.85 393.44,224.85 393.71,224.85 393.97,224.85 394.24,224.85 394.51,224.85 394.77,224.85 395.04,224.85 395.30,224.85 395.57,224.85 395.84,224.85 396.10,224.85 396.37,224.85 396.64,224.85 396.90,224.85 397.17,224.85 397.44,224.85 397.70,224.85 397.97,224.85 398.23,224.85 398.50,224.85 398.77,224.85 399.03,224.85 399.30,224.85 399.57,224.85 399.83,224.85 400.10,224.85 400.37,224.85 400.63,224.85 400.90,224.85 401.16,224.85 401.43,224.85 401.70,224.85 401.96,224.85 402.23,224.85 402.50,224.85 402.76,224.85 403.03,224.85 403.30,224.85 403.56,224.85 403.83,224.85 404.09,224.85 404.36,224.85 404.63,224.85 404.89,224.85 405.16,224.85 405.43,224.85 405.69,224.85 405.96,224.85 406.23,224.85 406.49,224.85 406.76,224.85 407.03,224.85 407.29,224.85 407.56,224.85 407.82,224.85 408.09,224.85 408.36,224.85 408.62,224.85 408.89,224.85 409.16,224.85 409.42,224.85 409.69,224.85 409.96,224.85 410.22,224.85 410.49,224.85 410.75,224.85 411.02,224.85 411.29,224.85 411.55,224.85 411.82,224.85 412.09,224.85 412.35,224.85 412.62,224.85 412.89,224.85 413.15,224.85 413.42,224.85 413.68,224.85 413.95,224.85 414.22,224.85 414.48,224.85 414.75,224.85 415.02,224.85 415.28,224.85 415.55,224.85 415.82,224.85 416.08,224.85 416.35,224.85 416.61,224.85 416.88,224.85 417.15,224.85 417.41,224.85 417.68,224.85 417.95,224.85 418.21,224.85 418.48,224.85 418.75,224.85 419.01,224.85 419.28,224.85 419.54,224.85 419.81,224.85 420.08,224.85 420.34,224.85 420.61,224.85 420.88,224.85 421.14,224.85 421.41,224.85 421.68,224.85 421.94,224.85 422.21,224.85 422.47,224.85 422.74,224.85 423.01,224.85 423.27,224.85 423.54,224.85 423.81,224.85 424.07,224.85 424.34,224.85 424.61,224.85 424.87,224.85 425.14,224.85 425.40,224.85 425.67,224.85 425.94,224.85 426.20,224.85 426.47,224.85 426.74,224.85 427.00,224.85 427.27,224.85 427.54,224.85 427.80,224.85 428.07,224.85 428.34,224.85 428.60,224.85 428.87,224.85 429.13,224.85 429.40,224.85 429.67,224.85 429.93,224.85 430.20,224.85 430.47,224.85 430.73,224.85 431.00,224.85 431.27,224.85 431.53,224.85 431.80,224.85 432.06,224.85 432.33,224.85 432.60,224.85 432.86,224.85 433.13,224.85 433.40,224.85 433.66,224.85 433.93,224.85 434.20,224.85 434.46,224.85 434.73,224.85 434.99,224.85 435.26,224.85 435.53,224.85 435.79,224.85 436.06,224.85 436.33,224.85 436.59,224.85 436.86,224.85 437.13,224.85 437.39,224.85 437.66,224.85 437.92,224.85 438.19,224.85 438.46,224.85 438.72,224.85 438.99,224.85 439.26,224.85 439.52,224.85 439.79,224.85 440.06,224.85 440.32,224.85 440.59,224.85 440.85,224.85 441.12,224.85 441.39,224.85 441.65,224.85 441.92,224.85 442.19,224.85 442.45,224.85 442.72,224.85 442.99,224.85 443.25,224.85 443.52,224.85 443.78,224.85 444.05,224.85 444.32,224.85 444.58,224.85 444.85,224.85 445.12,224.85 445.38,224.85 445.65,224.85 445.92,224.85 446.18,224.85 446.45,224.85 446.71,224.85 446.98,224.85 447.25,224.85 447.51,224.85 447.78,224.85 448.05,224.85 448.31,224.85 448.58,224.85 448.85,224.85 449.11,224.85 449.38,224.85 449.65,224.85 449.91,224.85 450.18,224.85 450.44,224.85 450.71,224.85 450.98,224.85 451.24,224.85 451.51,224.85 451.78,224.85 452.04,224.85 452.31,224.85 452.58,224.85 452.84,224.85 453.11,224.85 453.37,224.85 453.64,224.85 453.91,224.85 454.17,224.85 454.44,224.85 454.71,224.85 454.97,224.85 455.24,224.85 455.51,224.85 455.77,224.85 456.04,224.85 456.30,224.85 456.57,224.85 456.84,224.85 457.10,224.85 457.37,224.85 457.64,224.85 457.90,224.85 458.17,224.85 458.44,224.85 458.70,224.85 458.97,224.85 459.23,224.85 459.50,224.85 459.77,224.85 460.03,224.85 460.30,224.85 460.57,224.85 460.83,224.85 461.10,224.85 461.37,224.85 461.63,224.85 461.90,224.85 462.16,224.85 462.43,224.85 462.70,224.85 462.96,224.85 463.23,224.85 463.50,224.85 463.76,224.85 464.03,224.85 464.30,224.85 464.56,224.85 464.83,224.85 465.09,224.85 465.36,224.85 465.63,224.85 465.89,224.85 466.16,224.85 466.43,224.85 466.69,224.85 466.96,224.85 467.23,224.85 467.49,224.85 467.76,224.85 468.02,224.85 468.29,224.85 468.56,224.85 468.82,224.85 469.09,224.85 469.36,224.85 469.62,224.85 469.89,224.85 470.16,224.85 470.42,224.85 470.69,224.85 470.96,224.85 471.22,224.85 471.49,224.85 471.75,224.85 472.02,224.85 472.29,224.85 472.55,224.85 472.82,224.85 473.09,224.85 473.35,224.85 473.62,224.85 473.89,224.85 474.15,224.85 474.42,224.85 474.68,224.85 474.95,224.85 475.22,224.85 475.48,224.85 475.75,224.85 476.02,224.85 476.28,224.85 476.55,224.85 476.82,224.85 477.08,224.85 477.35,224.85 477.61,224.85 477.88,224.85 478.15,224.85 478.41,224.85 478.68,224.85 478.95,224.85 479.21,224.85 479.48,224.85 479.75,224.85 480.01,224.85 480.28,224.85 480.54,224.85 480.81,224.85 481.08,224.85 481.34,224.85 481.61,224.85 481.88,224.85 482.14,224.85 482.41,224.85 482.68,224.85 482.94,224.85 483.21,224.85 483.47,224.85 483.74,224.85 484.01,224.85 484.27,224.85 484.54,224.85 484.81,224.85 485.07,224.85 485.34,224.85 485.61,224.85 485.87,224.85 486.14,224.85 486.40,224.85 486.67,224.85 486.94,224.85 487.20,224.85 487.47,224.85 487.74,224.85 488.00,224.85 488.27,224.85 488.54,224.85 488.80,224.85 489.07,224.85 489.33,224.85 489.60,224.85 489.87,224.85 490.13,224.85 490.40,224.85 490.67,224.85 490.93,224.85 491.20,224.85 491.47,224.85 491.73,224.85 492.00,224.85 492.27,224.85 492.53,224.85 492.80,224.85 493.06,224.85 493.33,224.85 493.60,224.85 493.86,224.85 494.13,224.85 494.40,224.85 494.66,224.85 494.93,224.85 495.20,224.85 495.46,224.85 495.73,224.85 495.99,224.85 496.26,224.85 496.53,224.85 496.79,224.85 497.06,224.85 497.33,224.85 497.59,224.85 497.86,224.85 498.13,224.85 498.39,224.85 498.66,224.85 498.92,224.85 499.19,224.85 499.46,224.85 499.72,224.85 499.99,224.85 500.26,224.85 500.52,224.85 500.79,224.85 501.06,224.85 501.32,224.85 501.59,224.85 501.85,224.85 502.12,224.85 502.39,224.85 502.65,224.85 502.92,224.85 503.19,224.85 503.45,224.85 503.72,224.85 503.99,224.85 504.25,224.85 504.52,224.85 504.78,224.85 505.05,224.85 505.32,224.85 505.58,224.85 505.85,224.85 506.12,224.85 506.38,224.85 506.65,224.85 506.92,224.85 507.18,224.85 507.45,224.85 507.71,224.85 507.98,224.85 508.25,224.85 508.51,224.85 508.78,224.85 509.05,224.85 509.31,224.85 509.58,224.85 509.85,224.85 510.11,224.85 510.38,224.85 510.64,224.85 510.91,224.85 511.18,224.85 511.44,224.85 511.71,224.85 511.98,224.85 512.24,224.85 512.51,224.85 512.78,224.85 513.04,224.85 513.31,224.85 513.58,224.85 513.84,224.85 514.11,224.85 514.37,224.85 514.64,224.85 514.91,224.85 515.17,224.85 515.44,224.85 515.71,224.85 515.97,224.85 516.24,224.85 516.51,224.85 516.77,224.85 517.04,224.85 517.30,224.85 517.57,224.85 517.84,224.85 518.10,224.85 518.37,224.85 518.64,224.85 518.90,224.85 519.17,224.85 519.44,224.85 519.70,224.85 519.97,224.85 520.23,224.85 520.50,224.85 520.77,224.85 521.03,224.85 521.30,224.85 L521.30,224.85 Z" fill="#945785" stroke="#2d1e3e" stroke-width="3.5" stroke-linejoin="round"/></g>
<rect x="95.1" y="17.1" width="426.2" height="207.75" fill="none" stroke="#cccccc" stroke-width="1.75"/>
<circle cx="280.27" cy="27.16" r="7.6" fill="#bd7a98" stroke="#000" stroke-width="3.4"/>
<g id="wmw" transform="matrix(0.9848 0.0000 0.0000 0.9765 3.7967 1.0852)"><text class="sans" x="303.9" y="28.9" font-size="29.5" font-style="italic" stroke="#262626" stroke-width="0.35">w</text></g>
<g id="wmMAP" transform="matrix(0.9885 0.0000 0.0000 1.0809 3.5526 -2.9411)"><text class="sans" x="325.8" y="34" font-size="23.7" font-style="italic" letter-spacing="0.6">MAP</text></g>
<!-- legend -->
<rect x="295.2" y="106.1" width="220.3" height="98.4" rx="4.5" fill="#fff" fill-opacity="0.8" stroke="#cccccc" stroke-width="1.5"/>
<rect x="307.9" y="119.9" width="61" height="21" fill="#edd1cb" fill-opacity="0.8" stroke="#945785" stroke-opacity="0.8" stroke-width="3.8"/>
<rect x="307.9" y="164.7" width="61" height="21" fill="#945785" stroke="#2d1e3e" stroke-width="3.8"/>
<g id="legP" transform="matrix(0.9590 0.0000 0.0000 1.0144 14.8902 -1.2686)"><text class="sans leg" x="395" y="141.8">Posterior</text></g>
<g id="legL" transform="matrix(0.9423 0.0000 0.0000 1.0328 20.5162 -6.9615)"><text class="sans leg" x="395" y="187.1">Laplace</text></g>
<!-- ticks -->
<g class="sans tick" text-anchor="end">
<g id="yt4" transform="matrix(0.9405 0.0000 0.0000 1.0355 4.2121 -3.7745)"><text x="64.6" y="84.1">4</text></g>
<g id="yt2" transform="matrix(1.0455 0.0000 0.0000 1.1193 -1.7921 -18.7765)"><text x="64.6" y="158.8">2</text></g>
<g id="yt0" transform="matrix(0.9167 0.0000 0.0000 1.0835 5.3333 -18.7298)"><text x="64.6" y="234.4">0</text></g>
</g>
<g class="sans tick" text-anchor="middle">
<g id="xtm10" transform="matrix(1.0096 0.0000 0.0000 1.0943 -1.3212 -25.9437)"><text x="94.75" y="274.5"><tspan font-family="DejaVu Sans">−</tspan>10</text></g>
<g id="xtm5" transform="matrix(1.0070 0.0000 0.0000 1.0484 -2.5339 -13.7129)"><text x="201.9" y="274.5"><tspan font-family="DejaVu Sans">−</tspan>5</text></g>
<g id="xt0" transform="matrix(1.0122 0.0000 0.0000 1.0943 -3.5383 -25.5416)"><text x="307.9" y="274.5">0</text></g>
<g id="xt5" transform="matrix(0.9505 0.0000 0.0000 1.1070 20.8079 -29.0328)"><text x="414.5" y="274.5">5</text></g>
<g id="xt10" transform="matrix(0.9286 0.0000 0.0000 1.0943 38.1412 -25.5416)"><text x="521" y="274.5">10</text></g>
</g>
<g id="xlab" transform="matrix(1.0247 0.0000 0.0000 0.9867 -8.5028 4.6435)"><text class="sans tick" x="310" y="304.5" text-anchor="middle" font-style="italic">w</text></g>
<g id="ylab" transform="matrix(1.1189 0.0000 0.0000 1.0624 -5.4660 -9.0426)"><text class="sans" font-size="26.5" transform="translate(38.6,121.4) rotate(-90)" text-anchor="middle"><tspan font-style="italic">p</tspan>(<tspan font-style="italic">w</tspan>|<tspan font-family="Liberation Serif" font-style="italic">D</tspan>)</text></g>

<!-- ===== RIGHT PLOT ===== -->
<g fill="none" stroke="#cccccc" stroke-width="2.4">
<path d="M750.4,26.7V227.9M825.6,26.7V227.9M900.8,26.7V227.9M976,26.7V227.9M1051.2,26.7V227.9M682.8,69.5H1095.1M682.8,122.2H1095.1M682.8,174.9H1095.1"/>
</g>
<path d="M754.6,216.2V85.1" stroke="#000" stroke-width="5.1" stroke-dasharray="19.5 9.5" fill="none"/>
<path d="M702.65,214.76 703.58,214.27 704.52,213.75 705.46,213.18 706.39,212.57 707.33,211.90 708.27,211.19 709.20,210.42 710.14,209.59 711.08,208.70 712.02,207.76 712.95,206.74 713.89,205.66 714.83,204.51 715.76,203.28 716.70,201.98 717.64,200.59 718.57,199.13 719.51,197.57 720.45,195.93 721.38,194.21 722.32,192.38 723.26,190.47 724.19,188.45 725.13,186.34 726.07,184.13 727.00,181.82 727.94,179.40 728.88,176.89 729.81,174.29 730.75,171.59 731.69,168.79 732.62,165.91 733.56,162.95 734.50,159.91 735.43,156.81 736.37,153.66 737.31,150.46 738.24,147.24 739.18,144.00 740.12,140.77 741.05,137.57 741.99,134.42 742.93,131.33 743.86,128.34 744.80,125.47 745.74,122.74 746.67,120.18 747.61,117.80 748.55,115.63 749.48,113.67 750.42,111.93 751.36,110.42 752.29,109.12 753.23,108.02 754.17,107.11 754.82,106.57 755.10,106.36 756.04,105.74 756.98,105.22 757.91,104.79 758.85,104.40 759.79,104.05 760.72,103.74 761.66,103.48 762.60,103.30 763.53,103.27 764.47,103.41 765.41,103.66 766.34,103.96 767.28,104.26 768.22,104.56 769.15,104.87 770.09,105.17 771.03,105.47 771.96,105.77 772.90,105.98 773.84,105.80 774.77,105.31 775.71,104.85 776.65,104.45 777.58,104.15 778.52,104.24 779.46,104.54 780.39,104.84 781.33,105.14 782.27,105.42 783.20,105.26 784.14,104.81 785.08,104.43 786.01,104.52 786.95,104.82 787.89,105.12 788.82,105.19 789.76,104.75 790.70,104.53 791.63,104.82 792.57,105.11 793.51,104.91 794.44,104.58 795.38,104.85 796.32,105.10 797.25,104.70 798.19,104.79 799.13,105.06 800.06,104.67 801.00,104.89 801.94,104.87 802.88,104.79 803.81,104.95 804.75,104.77 805.69,104.92 806.62,104.82 807.56,104.82 808.50,104.93 809.43,104.77 810.37,104.83 811.31,104.94 812.24,104.86 813.18,104.80 814.12,104.77 815.05,104.77 815.99,104.78 816.93,104.78 817.86,104.80 818.80,104.84 819.74,104.90 820.67,104.83 821.61,104.83 822.55,104.87 823.48,104.84 824.42,104.82 825.36,104.88 826.29,104.88 827.23,104.87 828.17,104.88 829.10,104.86 830.04,104.82 830.98,104.87 831.91,104.83 832.85,104.83 833.79,104.84 834.72,104.83 835.66,104.84 836.60,104.86 837.53,104.85 838.47,104.85 839.41,104.86 840.34,104.84 841.28,104.86 842.22,104.85 843.15,104.86 844.09,104.83 845.03,104.84 845.96,104.84 846.90,104.86 847.84,104.86 848.77,104.84 849.71,104.85 850.65,104.84 851.58,104.85 852.52,104.85 853.46,104.85 854.39,104.84 855.33,104.84 856.27,104.85 857.20,104.85 858.14,104.85 859.08,104.85 860.01,104.84 860.95,104.85 861.89,104.84 862.82,104.85 863.76,104.85 864.70,104.84 865.63,104.85 866.57,104.85 867.51,104.85 868.44,104.84 869.38,104.84 870.32,104.85 871.25,104.85 872.19,104.85 873.13,104.84 874.06,104.85 875.00,104.85 875.94,104.85 876.87,104.85 877.81,104.85 878.75,104.85 879.68,104.85 880.62,104.85 881.56,104.85 882.49,104.85 883.43,104.85 884.37,104.85 885.30,104.85 886.24,104.85 887.18,104.85 888.11,104.85 889.05,104.85 889.99,104.85 890.93,104.85 891.86,104.85 892.80,104.85 893.74,104.85 894.67,104.85 895.61,104.85 896.55,104.85 897.48,104.85 898.42,104.85 899.36,104.85 900.29,104.85 901.23,104.85 902.17,104.85 903.10,104.85 904.04,104.85 904.98,104.85 905.91,104.85 906.85,104.85 907.79,104.85 908.72,104.85 909.66,104.85 910.60,104.85 911.53,104.85 912.47,104.85 913.41,104.85 914.34,104.85 915.28,104.85 916.22,104.85 917.15,104.85 918.09,104.85 919.03,104.85 919.96,104.85 920.90,104.85 921.84,104.85 922.77,104.85 923.71,104.85 924.65,104.85 925.58,104.85 926.52,104.85 927.46,104.85 928.39,104.85 929.33,104.85 930.27,104.85 931.20,104.85 932.14,104.85 933.08,104.85 934.01,104.85 934.95,104.85 935.89,104.85 936.82,104.85 937.76,104.85 938.70,104.85 939.63,104.85 940.57,104.85 941.51,104.85 942.44,104.85 943.38,104.85 944.32,104.85 945.25,104.85 946.19,104.85 947.13,104.85 948.06,104.85 949.00,104.85 949.94,104.85 950.87,104.85 951.81,104.85 952.75,104.85 953.68,104.85 954.62,104.85 955.56,104.85 956.49,104.85 957.43,104.85 958.37,104.85 959.30,104.85 960.24,104.85 961.18,104.85 962.11,104.85 963.05,104.85 963.99,104.85 964.92,104.85 965.86,104.85 966.80,104.85 967.73,104.85 968.67,104.85 969.61,104.85 970.54,104.85 971.48,104.85 972.42,104.85 973.35,104.85 974.29,104.85 975.23,104.85 976.16,104.85 977.10,104.85 978.04,104.85 978.98,104.85 979.91,104.85 980.85,104.85 981.79,104.85 982.72,104.85 983.66,104.85 984.60,104.85 985.53,104.85 986.47,104.85 987.41,104.85 988.34,104.85 989.28,104.85 990.22,104.85 991.15,104.85 992.09,104.85 993.03,104.85 993.96,104.85 994.90,104.85 995.84,104.85 996.77,104.85 997.71,104.85 998.65,104.85 999.58,104.85 1000.52,104.85 1001.46,104.85 1002.39,104.85 1003.33,104.85 1004.27,104.85 1005.20,104.85 1006.14,104.85 1007.08,104.85 1008.01,104.85 1008.95,104.85 1009.89,104.85 1010.82,104.85 1011.76,104.85 1012.70,104.85 1013.63,104.85 1014.57,104.85 1015.51,104.85 1016.44,104.85 1017.38,104.85 1018.32,104.85 1019.25,104.85 1020.19,104.85 1021.13,104.85 1022.06,104.85 1023.00,104.85 1023.94,104.85 1024.87,104.85 1025.81,104.85 1026.75,104.85 1027.68,104.85 1028.62,104.85 1029.56,104.85 1030.49,104.85 1031.43,104.85 1032.37,104.85 1033.30,104.85 1034.24,104.85 1035.18,104.85 1036.11,104.85 1037.05,104.85 1037.99,104.85 1038.92,104.85 1039.86,104.85 1040.80,104.85 1041.73,104.85 1042.67,104.85 1043.61,104.85 1044.54,104.85 1045.48,104.85 1046.42,104.85 1047.35,104.85 1048.29,104.85 1049.23,104.85 1050.16,104.85 1051.10,104.85 1052.04,104.85 1052.97,104.85 1053.91,104.85 1054.85,104.85 1055.78,104.85 1056.72,104.85 1057.66,104.85 1058.59,104.85 1059.53,104.85 1060.47,104.85 1061.40,104.85 1062.34,104.85 1063.28,104.85 1064.21,104.85 1065.15,104.85 1066.09,104.85 1067.02,104.85 1067.96,104.85 1068.90,104.85 1069.84,104.85 1070.77,104.85 1071.71,104.85 1072.65,104.85 1073.58,104.85 1074.52,104.85 1075.46,104.85 1076.39,104.85" fill="none" stroke="#daa4ac" stroke-width="5" stroke-linecap="round" stroke-linejoin="round"/>
<path d="M702.65,200.06 703.58,199.61 704.52,199.12 705.46,198.58 706.39,198.00 707.33,197.37 708.27,196.68 709.20,195.95 710.14,195.16 711.08,194.31 712.02,193.40 712.95,192.43 713.89,191.40 714.83,190.29 715.76,189.11 716.70,187.86 717.64,186.54 718.57,185.13 719.51,183.64 720.45,182.07 721.38,180.41 722.32,178.67 723.26,176.83 724.19,174.90 725.13,172.88 726.07,170.76 727.00,168.55 727.94,166.25 728.88,163.86 729.81,161.37 730.75,158.80 731.69,156.15 732.62,153.42 733.56,150.62 734.50,147.75 735.43,144.83 736.37,141.87 737.31,138.88 738.24,135.88 739.18,132.89 740.12,129.91 741.05,126.99 741.99,124.13 742.93,121.36 743.86,118.71 744.80,116.20 745.74,113.85 746.67,111.70 747.61,109.75 748.55,108.02 749.48,106.50 750.42,105.20 751.36,104.07 752.29,103.07 753.23,102.10 754.17,100.97 754.82,99.87 755.10,99.96 756.04,100.26 756.98,100.56 757.91,100.87 758.85,101.17 759.79,101.47 760.72,101.77 761.66,102.08 762.60,102.38 763.53,102.68 764.47,102.98 765.41,103.29 766.34,103.59 767.28,103.89 768.22,104.19 769.15,104.49 770.09,104.80 771.03,105.10 771.96,105.40 772.90,105.70 773.84,106.01 774.77,106.31 775.71,106.61 776.65,106.91 777.58,107.22 778.52,107.52 779.46,107.82 780.39,108.12 781.33,108.42 782.27,108.73 783.20,109.03 784.14,109.33 785.08,109.63 786.01,109.94 786.95,110.24 787.89,110.54 788.82,110.84 789.76,111.15 790.70,111.45 791.63,111.75 792.57,112.05 793.51,112.35 794.44,112.66 795.38,112.96 796.32,113.26 797.25,113.56 798.19,113.87 799.13,114.17 800.06,114.47 801.00,114.77 801.94,115.08 802.88,115.38 803.81,115.68 804.75,115.98 805.69,116.28 806.62,116.59 807.56,116.89 808.50,117.19 809.43,117.49 810.37,117.80 811.31,118.10 812.24,118.40 813.18,118.70 814.12,119.00 815.05,119.31 815.99,119.61 816.93,119.91 817.86,120.21 818.80,120.52 819.74,120.82 820.67,121.12 821.61,121.42 822.55,121.73 823.48,122.03 824.42,122.33 825.36,122.63 826.29,122.93 827.23,123.24 828.17,123.54 829.10,123.84 830.04,124.14 830.98,124.45 831.91,124.75 832.85,125.05 833.79,125.35 834.72,125.66 835.66,125.96 836.60,126.26 837.53,126.56 838.47,126.86 839.41,127.17 840.34,127.47 841.28,127.77 842.22,128.07 843.15,128.38 844.09,128.68 845.03,128.98 845.96,129.28 846.90,129.59 847.84,129.89 848.77,130.19 849.71,130.49 850.65,130.79 851.58,131.10 852.52,131.40 853.46,131.70 854.39,132.00 855.33,132.31 856.27,132.61 857.20,132.91 858.14,133.21 859.08,133.52 860.01,133.82 860.95,134.12 861.89,134.42 862.82,134.72 863.76,135.03 864.70,135.33 865.63,135.63 866.57,135.93 867.51,136.24 868.44,136.54 869.38,136.84 870.32,137.14 871.25,137.45 872.19,137.75 873.13,138.05 874.06,138.35 875.00,138.65 875.94,138.96 876.87,139.26 877.81,139.56 878.75,139.86 879.68,140.17 880.62,140.47 881.56,140.77 882.49,141.07 883.43,141.38 884.37,141.68 885.30,141.98 886.24,142.28 887.18,142.58 888.11,142.89 889.05,143.19 889.99,143.49 890.93,143.79 891.86,144.10 892.80,144.40 893.74,144.70 894.67,145.00 895.61,145.31 896.55,145.61 897.48,145.91 898.42,146.21 899.36,146.51 900.29,146.82 901.23,147.12 902.17,147.42 903.10,147.72 904.04,148.03 904.98,148.33 905.91,148.63 906.85,148.93 907.79,149.24 908.72,149.54 909.66,149.84 910.60,150.14 911.53,150.44 912.47,150.75 913.41,151.05 914.34,151.35 915.28,151.65 916.22,151.96 917.15,152.26 918.09,152.56 919.03,152.86 919.96,153.16 920.90,153.47 921.84,153.77 922.77,154.07 923.71,154.37 924.65,154.68 925.58,154.98 926.52,155.28 927.46,155.58 928.39,155.89 929.33,156.19 930.27,156.49 931.20,156.79 932.14,157.09 933.08,157.40 934.01,157.70 934.95,158.00 935.89,158.30 936.82,158.61 937.76,158.91 938.70,159.21 939.63,159.51 940.57,159.82 941.51,160.12 942.44,160.42 943.38,160.72 944.32,161.02 945.25,161.33 946.19,161.63 947.13,161.93 948.06,162.23 949.00,162.54 949.94,162.84 950.87,163.14 951.81,163.44 952.75,163.75 953.68,164.05 954.62,164.35 955.56,164.65 956.49,164.95 957.43,165.26 958.37,165.56 959.30,165.86 960.24,166.16 961.18,166.47 962.11,166.77 963.05,167.07 963.99,167.37 964.92,167.68 965.86,167.98 966.80,168.28 967.73,168.58 968.67,168.88 969.61,169.19 970.54,169.49 971.48,169.79 972.42,170.09 973.35,170.40 974.29,170.70 975.23,171.00 976.16,171.30 977.10,171.61 978.04,171.91 978.98,172.21 979.91,172.51 980.85,172.81 981.79,173.12 982.72,173.42 983.66,173.72 984.60,174.02 985.53,174.33 986.47,174.63 987.41,174.93 988.34,175.23 989.28,175.54 990.22,175.84 991.15,176.14 992.09,176.44 993.03,176.74 993.96,177.05 994.90,177.35 995.84,177.65 996.77,177.95 997.71,178.26 998.65,178.56 999.58,178.86 1000.52,179.16 1001.46,179.47 1002.39,179.77 1003.33,180.07 1004.27,180.37 1005.20,180.67 1006.14,180.98 1007.08,181.28 1008.01,181.58 1008.95,181.88 1009.89,182.19 1010.82,182.49 1011.76,182.79 1012.70,183.09 1013.63,183.40 1014.57,183.70 1015.51,184.00 1016.44,184.30 1017.38,184.60 1018.32,184.91 1019.25,185.21 1020.19,185.51 1021.13,185.81 1022.06,186.12 1023.00,186.42 1023.94,186.72 1024.87,187.02 1025.81,187.32 1026.75,187.63 1027.68,187.93 1028.62,188.23 1029.56,188.53 1030.49,188.84 1031.43,189.14 1032.37,189.44 1033.30,189.74 1034.24,190.05 1035.18,190.35 1036.11,190.65 1037.05,190.95 1037.99,191.25 1038.92,191.56 1039.86,191.86 1040.80,192.16 1041.73,192.46 1042.67,192.77 1043.61,193.07 1044.54,193.37 1045.48,193.67 1046.42,193.98 1047.35,194.28 1048.29,194.58 1049.23,194.88 1050.16,195.18 1051.10,195.49 1052.04,195.79 1052.97,196.09 1053.91,196.39 1054.85,196.70 1055.78,197.00 1056.72,197.30 1057.66,197.60 1058.59,197.91 1059.53,198.21 1060.47,198.51 1061.40,198.81 1062.34,199.11 1063.28,199.42 1064.21,199.72 1065.15,200.02 1066.09,200.32 1067.02,200.63 1067.96,200.93 1068.90,201.23 1069.84,201.53 1070.77,201.84 1071.71,202.14 1072.65,202.44 1073.58,202.74 1074.52,203.04 1075.46,203.35 1076.39,203.65" fill="none" stroke="#613969" stroke-width="5" stroke-linecap="round" stroke-linejoin="round"/>
<rect x="682.8" y="26.7" width="412.3" height="201.2" fill="none" stroke="#cccccc" stroke-width="1.75"/>
<!-- legend -->
<rect x="683.5" y="31.2" width="393.3" height="51.8" rx="4.5" fill="#fff" fill-opacity="0.8" stroke="#cccccc" stroke-width="1.5"/>
<path d="M694.3,55.1H753.5" stroke="#daa4ac" stroke-width="5" stroke-linecap="round"/>
<path d="M891.4,55.2H950.3" stroke="#613969" stroke-width="5" stroke-linecap="round"/>
<g id="legT" transform="matrix(0.9572 0.0000 0.0000 1.0770 32.7519 -5.9016)"><text class="sans leg" x="778.2" y="66.3">True</text></g>
<g id="legL2" transform="matrix(0.9126 0.0000 0.0000 0.9870 83.6872 -0.0456)"><text class="sans leg" x="975.7" y="66.1">Laplace</text></g>
<!-- rotated w_MAP -->
<g id="rwmw" transform="matrix(0.9520 0.0000 0.0000 0.9439 37.1655 12.4572)"><text class="sans" transform="translate(782.2,205.6) rotate(-90)" font-size="29" font-style="italic" stroke="#262626" stroke-width="0.35">w</text></g>
<g id="rwmMAP" transform="matrix(1.0507 0.0000 0.0000 0.9656 -39.6336 7.1448)"><text class="sans" transform="translate(786.5,184.5) rotate(-90)" font-size="23.7" font-style="italic" letter-spacing="0.6">MAP</text></g>
<!-- ticks -->
<g class="sans tick" text-anchor="end">
<g id="rt60" transform="matrix(0.9864 0.0000 0.0000 1.0825 9.8702 -6.9304)"><text x="653.1" y="79.3"><tspan font-family="DejaVu Sans">−</tspan>60</text></g>
<g id="rt70" transform="matrix(0.9864 0.0000 0.0000 1.0247 9.8702 -3.2639)"><text x="653.1" y="132"><tspan font-family="DejaVu Sans">−</tspan>70</text></g>
<g id="rt80" transform="matrix(0.9640 0.0000 0.0000 1.0484 24.4868 -8.1778)"><text x="653.1" y="184.7"><tspan font-family="DejaVu Sans">−</tspan>80</text></g>
<g id="rt90" transform="matrix(0.9864 0.0000 0.0000 1.0355 9.8702 -8.0032)"><text x="653.1" y="237.4"><tspan font-family="DejaVu Sans">−</tspan>90</text></g>
</g>
<g class="sans tick">
<g id="x100" transform="matrix(0.9490 0.0000 0.0000 1.0000 35.7517 0.4000)"><text x="734.4" y="275">10<tspan font-size="17.5" dy="-9">0</tspan></text></g>
<g id="x102" transform="matrix(0.9374 0.0000 0.0000 1.0183 48.9228 -3.8351)"><text x="809.6" y="275">10<tspan font-size="17.5" dy="-9">2</tspan></text></g>
<g id="x104" transform="matrix(0.9429 0.0000 0.0000 1.0011 48.4286 0.0834)"><text x="884.8" y="275">10<tspan font-size="17.5" dy="-9">4</tspan></text></g>
<g id="x106" transform="matrix(0.9473 0.0000 0.0000 1.0100 49.3221 -2.1461)"><text x="960" y="275">10<tspan font-size="17.5" dy="-9">6</tspan></text></g>
<g id="x108" transform="matrix(0.9433 0.0000 0.0000 1.0100 56.9942 -2.1461)"><text x="1035.2" y="275">10<tspan font-size="17.5" dy="-9">8</tspan></text></g>
</g>
<g id="xlabR" transform="matrix(0.9987 0.0000 0.0000 0.9693 -0.3372 10.0868)"><text class="sans tick" x="889.3" y="305.6" text-anchor="middle">Prior range, <tspan font-family="Liberation Serif" font-style="italic">α</tspan></text></g>
<g id="ylabR" transform="matrix(1.0062 0.0000 0.0000 1.0001 -3.9190 0.1905)"><text class="sans tick" transform="translate(596.2,126.8) rotate(-90)" text-anchor="middle">LML estimate</text></g>
</svg>

<div id="cap">
<div class="la" style="top:363.99px"><i class="p" style="margin-left:13.973px;width:123.325px;font-style:italic;transform:translateY(0.00px) scale(0.969,1.000);transform-origin:-0.22px 39.61px;">Figure </i><i class="p" style="margin-left:-2.237px;width:41.500px;font-style:italic;">3. </i><b class="p" style="margin-left:13.230px;width:151.005px;font-weight:bold;transform:translateY(0.00px) scale(1.014,1.000);transform-origin:0.71px 39.61px;">Laplace </b><b class="p" style="margin-left:6.617px;width:283.610px;font-weight:bold;">approximation. </b><span class="p" style="margin-left:19.031px;width:118.725px;transform:translateY(0.00px) scale(1.023,1.000);transform-origin:1.20px 39.61px;">Model </span><i class="p" style="margin-left:11.227px;width:28.795px;font-style:italic;-webkit-text-stroke:0.3px #000;transform:translateY(0.00px) scale(1.101,1.000);transform-origin:-0.51px 39.61px;">x </i><span class="p" style="margin-left:14.125px;width:39.595px;font-family:'DejaVu Sans',sans-serif;font-weight:200;-webkit-text-stroke:0;transform:translateY(16.72px) scale(1.455,1.908);transform-origin:3.32px 39.61px;">∼ </span><i class="p" style="margin-left:15.282px;width:27.680px;font-style:italic;-webkit-text-stroke:0.3px #000;transform:translateY(0.00px) scale(1.128,1.000);transform-origin:-0.30px 39.61px;">N</i><span class="p" style="margin-left:16.292px;width:13.820px;-webkit-text-stroke:0.2px #000;transform:translateY(0.19px) scale(1.107,1.121);transform-origin:1.82px 39.61px;">(</span><span class="p" style="margin-left:0.002px;width:48.430px;-webkit-text-stroke:0.2px #000;transform:translateY(0.00px) scale(1.130,1.000);transform-origin:1.70px 39.61px;">sin</span><span class="p" style="margin-left:6.448px;width:13.820px;-webkit-text-stroke:0.2px #000;transform:translateY(0.19px) scale(1.201,1.121);transform-origin:1.82px 39.61px;">(</span><i class="p" style="margin-left:2.411px;width:27.680px;font-style:italic;-webkit-text-stroke:0.3px #000;transform:translateY(0.00px) scale(1.130,1.000);transform-origin:0.99px 39.61px;">w</i><span class="p" style="margin-left:4.775px;width:13.820px;-webkit-text-stroke:0.2px #000;transform:translateY(0.19px) scale(1.107,1.121);transform-origin:1.34px 39.61px;">)</span><span class="p" style="margin-left:3.637px;width:20.750px;-webkit-text-stroke:0.2px #000;transform:translateY(0.00px) scale(0.938,1.000);transform-origin:1.58px 39.61px;">, </span><span class="p" style="margin-left:-5.217px;width:20.750px;-webkit-text-stroke:0.2px #000;transform:translateY(0.00px) scale(1.143,1.000);transform-origin:3.65px 39.61px;">1</span><span class="p" style="margin-left:2.260px;width:13.820px;-webkit-text-stroke:0.2px #000;transform:translateY(0.19px) scale(1.107,1.121);transform-origin:1.34px 39.61px;">)</span></div>
<div class="la" style="top:415.19px"><span class="p" style="margin-left:16.209px;width:84.155px;transform:translateY(0.00px) scale(0.956,1.000);transform-origin:0.04px 39.61px;">with </span><span class="p" style="margin-left:-4.323px;width:28.795px;transform:translateY(0.00px) scale(0.991,1.000);transform-origin:1.46px 39.61px;">a </span><span class="p" style="margin-left:-0.383px;width:144.075px;transform:translateY(0.00px) scale(0.981,1.000);transform-origin:0.55px 39.61px;">uniform </span><span class="p" style="margin-left:-2.946px;width:91.045px;transform:translateY(0.00px) scale(0.949,1.000);transform-origin:0.67px 39.61px;">prior </span><i class="p" style="margin-left:-1.369px;width:38.055px;font-style:italic;-webkit-text-stroke:0.3px #000;transform:translateY(0.00px) scale(1.137,1.000);transform-origin:0.99px 39.61px;">w </i><span class="p" style="margin-left:4.615px;width:39.595px;font-family:'DejaVu Sans',sans-serif;font-weight:200;-webkit-text-stroke:0;transform:translateY(16.72px) scale(1.455,1.908);transform-origin:3.32px 39.61px;">∼ </span><i class="p" style="margin-left:6.168px;width:29.970px;font-style:italic;-webkit-text-stroke:0.3px #000;transform:translateY(0.00px) scale(1.056,1.000);transform-origin:3.81px 39.61px;">U</i><span class="p" style="margin-left:7.010px;width:13.820px;-webkit-text-stroke:0.2px #000;transform:translateY(3.38px) scale(0.812,1.201);transform-origin:3.08px 39.61px;">[</span><span class="p" style="margin-left:-2.807px;width:23.405px;-webkit-text-stroke:0.2px #000;transform:translateY(0.00px) scale(1.424,1.000);transform-origin:2.07px 39.61px;">−</span><i class="p" style="margin-left:9.926px;width:21.783px;font-style:italic;-webkit-text-stroke:0.3px #000;transform:translateY(0.00px) scale(1.177,1.000);transform-origin:1.24px 39.61px;">α</i><span class="p" style="margin-left:5.372px;width:20.750px;-webkit-text-stroke:0.2px #000;transform:translateY(0.00px) scale(1.011,1.000);transform-origin:1.58px 39.61px;">, </span><i class="p" style="margin-left:-1.656px;width:21.783px;font-style:italic;-webkit-text-stroke:0.3px #000;transform:translateY(0.00px) scale(1.177,1.000);transform-origin:1.24px 39.61px;">α</i><span class="p" style="margin-left:5.453px;width:13.820px;-webkit-text-stroke:0.2px #000;transform:translateY(3.38px) scale(0.676,1.201);transform-origin:1.50px 39.61px;">]</span><span class="p" style="margin-left:-2.556px;width:20.750px;transform:translateY(0.00px) scale(1.020,1.000);transform-origin:2.74px 39.61px;">. </span><b class="p" style="margin-left:3.912px;width:125.574px;font-weight:bold;transform:translateY(0.00px) scale(1.014,1.000);transform-origin:1.82px 39.61px;">(Left): </b><span class="p" style="margin-left:1.304px;width:160.225px;">Posterior </span><span class="p" style="margin-left:-2.329px;width:130.255px;transform:translateY(0.00px) scale(0.979,1.000);transform-origin:1.50px 39.61px;">density </span><span class="p" style="margin-left:-1.614px;width:59.920px;">and</span></div>
<div class="lj" style="top:466.39px">a Laplace approximation to the posterior (scaled for visualization);</div>
<div class="lj" style="top:517.59px"><b>(Right):</b> True marginal likelihood and the Laplace estimate as a</div>
<div class="lj" style="top:568.79px">function of <i>α</i>. <span style="margin-left:8px">As</span> Laplace only captures a single mode, the Laplace</div>
<div class="lj" style="top:619.99px">estimate of marginal likelihood decreases linearly with <i>α</i> while</div>
<div class="lj last" style="top:671.19px">the true marginal likelihood is roughly constant.</div>
</div>
</body></html>
